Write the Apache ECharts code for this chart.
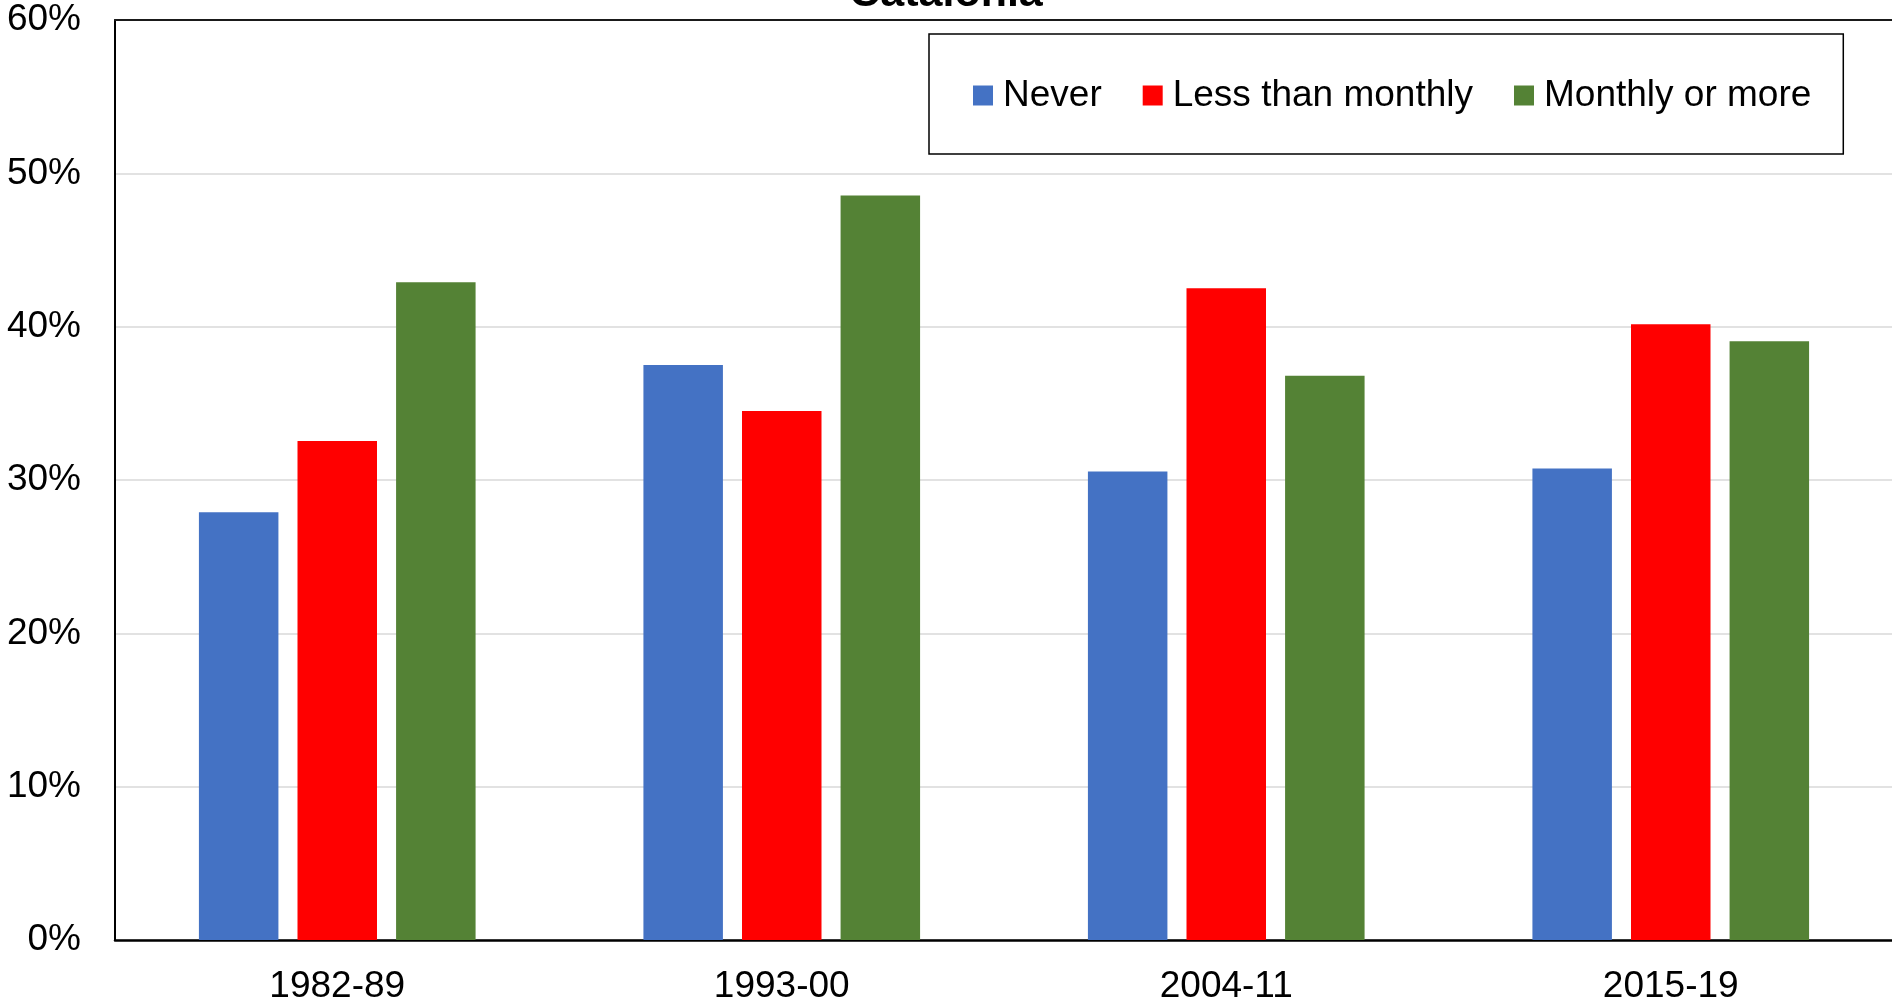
<!DOCTYPE html>
<html>
  <head>
    <meta charset="utf-8">
    <title>Catalonia</title>
    <script type="text/javascript" src="https://cdn.jsdelivr.net/npm/echarts@6/dist/echarts.min.js"></script>
    <style>
      html, body { margin: 0; padding: 0; background: #fff; }
      #chart { width: 1892px; height: 1002px; }
    </style>
  </head>
  <body>
    <div id="chart"></div>
    <script type="text/javascript">
      // values, in percent
      var periods = ['1982-89', '1993-00', '2004-11', '2015-19'];
      var never = [27.9, 37.5, 30.55, 30.75];
      var lessThanMonthly = [32.55, 34.5, 42.5, 40.15];
      var monthlyOrMore = [42.9, 48.55, 36.8, 39.05];
      var yTicks = [0, 10, 20, 30, 40, 50, 60];

      var font = '"Liberation Sans", Arial, sans-serif';
      var chart = echarts.init(document.getElementById('chart'));

      function bar(name, data, color) {
        return {
          name: name,
          type: 'bar',
          data: data,
          barWidth: 79.5,
          barGap: '24%',
          itemStyle: { color: color },
          emphasis: { disabled: true }
        };
      }

      var option = {
        animation: false,
        title: {
          text: 'Catalonia',
          left: 'center',
          top: -32,
          textStyle: { fontFamily: font, fontSize: 43, fontWeight: 'bold', color: '#000' }
        },
        legend: {
          left: 929,
          top: 34,
          padding: [43, 32, 40, 44],
          itemGap: 41,
          itemWidth: 20,
          itemHeight: 20,
          borderColor: '#000',
          borderWidth: 1.5,
          icon: 'rect',
          textStyle: { fontFamily: font, fontSize: 37, color: '#000', padding: [0, 0, 0, 5] },
          data: ['Never', 'Less than monthly', 'Monthly or more']
        },
        grid: {
          left: 115,
          right: -1,
          top: 20,
          bottom: 62,
          outerBoundsMode: 'none'
        },
        xAxis: [{
          type: 'category',
          data: periods,
          axisLine: { lineStyle: { color: '#000', width: 2.5 } },
          axisTick: { show: false },
          axisLabel: { fontFamily: font, fontSize: 37, color: '#000', margin: 28 }
        }, {
          // plain frame line along the top of the plot
          type: 'category',
          position: 'top',
          data: periods,
          axisLine: { lineStyle: { color: '#1a1a1a', width: 2 } },
          axisTick: { show: false },
          axisLabel: { show: false }
        }],
        yAxis: {
          type: 'value',
          min: yTicks[0],
          max: yTicks[yTicks.length - 1],
          interval: 10,
          axisLine: { show: true, lineStyle: { color: '#000', width: 2 } },
          axisTick: { show: false },
          splitLine: { lineStyle: { color: '#d9d9d9', width: 1.5 } },
          axisLabel: {
            fontFamily: font, fontSize: 37, color: '#000', margin: 34,
            formatter: function (v) { return v + '%'; }
          }
        },
        series: [
          bar('Never', never, '#4472C4'),
          bar('Less than monthly', lessThanMonthly, '#FF0000'),
          bar('Monthly or more', monthlyOrMore, '#548235')
        ]
      };
      chart.setOption(option);
    </script>
  </body>
</html>
